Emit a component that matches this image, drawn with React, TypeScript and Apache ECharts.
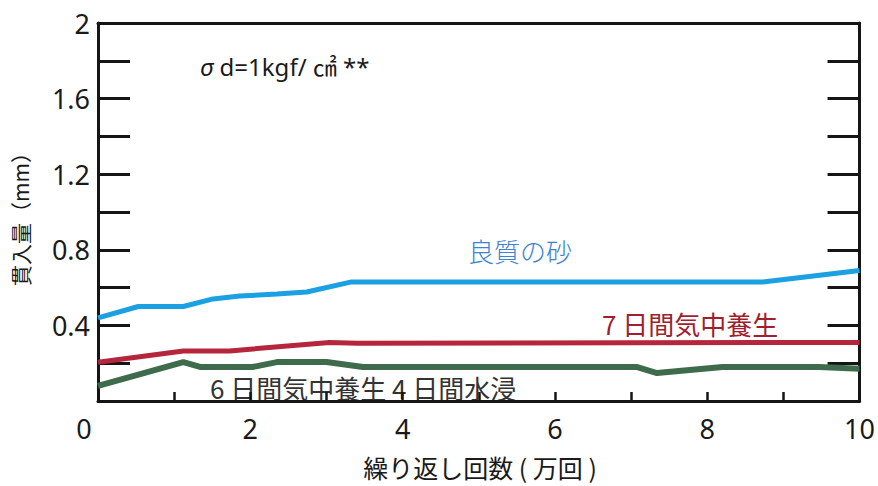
import React, { useEffect, useRef } from "react";
import * as echarts from "echarts";

// x: 繰り返し回数 (万回), y: 貫入量 (mm)
const goodSandX = [0, 0.53, 1.12, 1.51, 1.86, 2.35, 2.74, 3.33, 5, 7, 8.73, 10];
const goodSandY = [0.44, 0.5, 0.5, 0.54, 0.555, 0.566, 0.577, 0.63, 0.63, 0.63, 0.63, 0.69];

const air7X = [0, 1.12, 1.73, 3.04, 3.4, 10];
const air7Y = [0.205, 0.265, 0.265, 0.31, 0.305, 0.31];

const air6Water4X = [0, 1.12, 1.34, 2.03, 2.35, 3.0, 3.48, 7.07, 7.34, 8.2, 9.47, 10];
const air6Water4Y = [0.08, 0.206, 0.18, 0.18, 0.206, 0.206, 0.18, 0.18, 0.148, 0.18, 0.18, 0.17];

const xTickLabels = ["0", "2", "4", "6", "8", "10"];
const yTickLabels = ["0.4", "0.8", "1.2", "1.6", "2"];

const seriesNames = ["良質の砂", "7 日間気中養生", "6 日間気中養生 4 日間水浸"];

const NUM_FONT = "'Noto Sans', 'Noto Sans CJK JP', sans-serif";
const CJK_FONT = "'Noto Sans CJK JP', 'Noto Sans', sans-serif";

const zip = (xs: number[], ys: number[]) => xs.map((x, i) => [x, ys[i]]);

export default function App() {
  const ref = useRef<HTMLDivElement>(null);
  useEffect(() => {
    document.body.style.margin = "0";
    const chart = echarts.init(ref.current!, null, { renderer: "svg" });
    const axisColor = "#151515";
    chart.setOption({
      animation: false,
      backgroundColor: "#ffffff",
      grid: { left: 98, right: 18, top: 23, bottom: 85 },
      xAxis: [
        {
          type: "value",
          min: 0,
          max: 10,
          interval: 1,
          axisLine: { show: true, onZero: false, lineStyle: { color: axisColor, width: 3 } },
          axisTick: { show: true, inside: true, length: 9, lineStyle: { color: axisColor, width: 2.5 } },
          splitLine: { show: false },
          axisLabel: {
            margin: 14,
            fontSize: 27,
            fontFamily: NUM_FONT,
            color: "#1a1a1a",
            formatter: (v: number) => {
              const s = String(Math.round(v));
              if (!xTickLabels.includes(s)) return "";
              if (s === "0") return "{z|0}";
              return s;
            },
            rich: { z: { fontSize: 27, fontFamily: NUM_FONT, color: "#1a1a1a", padding: [0, 28, 0, 0] } },
          },
        },
        {
          type: "value",
          position: "top",
          min: 0,
          max: 10,
          interval: 1,
          axisLine: { show: true, onZero: false, lineStyle: { color: axisColor, width: 3 } },
          axisTick: { show: false },
          axisLabel: { show: false },
          splitLine: { show: false },
        },
      ],
      yAxis: [
        {
          type: "value",
          position: "left",
          min: 0,
          max: 2,
          interval: 0.2,
          axisLine: { show: true, onZero: false, lineStyle: { color: axisColor, width: 3 } },
          axisTick: { show: true, inside: true, length: 32, lineStyle: { color: axisColor, width: 3 } },
          splitLine: { show: false },
          axisLabel: {
            margin: 8,
            fontSize: 27,
            fontFamily: NUM_FONT,
            color: "#1a1a1a",
            formatter: (v: number) => {
              const r = Math.round(v * 10) / 10;
              const s = String(r);
              return yTickLabels.includes(s) ? s : "";
            },
          },
        },
        {
          type: "value",
          position: "right",
          min: 0,
          max: 2,
          interval: 0.2,
          axisLine: { show: true, onZero: false, lineStyle: { color: axisColor, width: 3 } },
          axisTick: { show: true, inside: true, length: 32, lineStyle: { color: axisColor, width: 3 } },
          axisLabel: { show: false },
          splitLine: { show: false },
        },
      ],
      series: [
        {
          name: seriesNames[0],
          type: "line",
          data: zip(goodSandX, goodSandY),
          showSymbol: false,
          symbol: "none",
          lineStyle: { color: "#1ba0e2", width: 5 },
          z: 3,
        },
        {
          name: seriesNames[1],
          type: "line",
          data: zip(air7X, air7Y),
          showSymbol: false,
          symbol: "none",
          lineStyle: { color: "#b5263d", width: 5 },
          z: 3,
        },
        {
          name: seriesNames[2],
          type: "line",
          data: zip(air6Water4X, air6Water4Y),
          showSymbol: false,
          symbol: "none",
          lineStyle: { color: "#3e6b4c", width: 6 },
          z: 3,
        },
      ],
      graphic: [
        {
          type: "text",
          x: 200,
          y: 66,
          style: {
            text: "{s|σ} d=1kgf/ ㎠ **",
            font: `24px ${NUM_FONT}`,
            fill: "#1a1a1a",
            textAlign: "left",
            textVerticalAlign: "middle",
            rich: {
              s: { fontSize: 24, fontStyle: "italic", fontFamily: NUM_FONT, color: "#1a1a1a" },
            },
          },
        },
        {
          type: "text",
          x: 520,
          y: 250,
          style: {
            text: seriesNames[0],
            font: `300 26px ${CJK_FONT}`,
            fill: "#3d82d2",
            textAlign: "center",
            textVerticalAlign: "middle",
          },
        },
        {
          type: "text",
          x: 690,
          y: 323,
          style: {
            text: seriesNames[1],
            font: `26px ${CJK_FONT}`,
            fill: "#a01f2e",
            textAlign: "center",
            textVerticalAlign: "middle",
          },
        },
        {
          type: "text",
          x: 210,
          y: 387,
          style: {
            text: seriesNames[2],
            font: `26px ${CJK_FONT}`,
            fill: "#333333",
            textAlign: "left",
            textVerticalAlign: "middle",
          },
        },
        {
          type: "text",
          x: 20,
          y: 214,
          rotation: Math.PI / 2,
          style: {
            text: "貫入量（mm）",
            font: `21px ${CJK_FONT}`,
            fill: "#1a1a1a",
            textAlign: "center",
            textVerticalAlign: "middle",
          },
        },
        {
          type: "text",
          x: 480,
          y: 467,
          style: {
            text: "繰り返し回数 ( 万回 )",
            font: `25px ${CJK_FONT}`,
            fill: "#1a1a1a",
            textAlign: "center",
            textVerticalAlign: "middle",
          },
        },
      ],
    });
    return () => chart.dispose();
  }, []);
  return <div ref={ref} style={{ width: 878, height: 486 }} />;
}
